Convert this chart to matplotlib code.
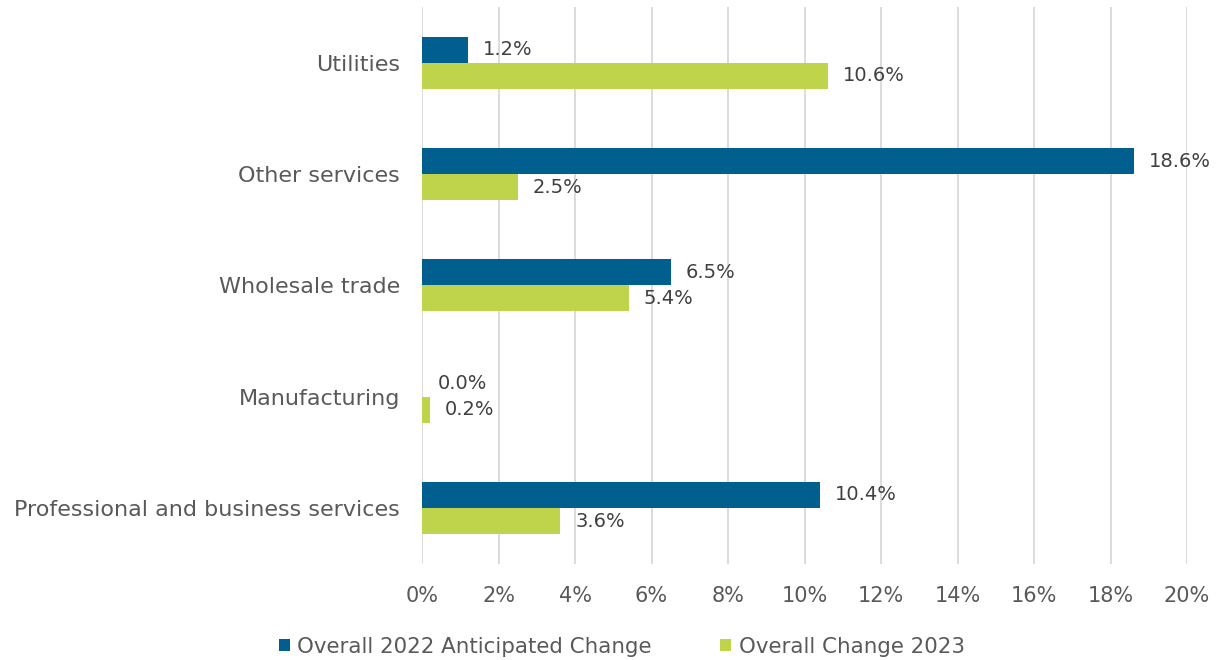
import matplotlib
matplotlib.use("Agg")
import matplotlib.pyplot as plt
import numpy as np

plt.rcParams['font.family'] = ['DejaVu Sans']

# sectors, top to bottom as drawn
sectors = ["Utilities", "Other services", "Wholesale trade",
           "Manufacturing", "Professional and business services"]
anticipated_2022 = [1.2, 18.6, 6.5, 0.0, 10.4]
change_2023 = [10.6, 2.5, 5.4, 0.2, 3.6]

blue = "#005f8f"
green = "#bfd44a"
txt = "#595959"

fig = plt.figure(figsize=(12.17, 6.6), dpi=100)
ax = fig.add_axes([0.3468, 0.146, 0.6286, 0.843])

y = np.arange(len(sectors))
h = 0.234
b1 = ax.barh(y - h / 2, anticipated_2022, height=h, color=blue,
             label="Overall 2022 Anticipated Change", zorder=3)
b2 = ax.barh(y + h / 2, change_2023, height=h, color=green,
             label="Overall Change 2023", zorder=3)

# value labels just past each bar end
for bars, vals in [(b1, anticipated_2022), (b2, change_2023)]:
    for bar, v in zip(bars, vals):
        ax.text(v + 0.4, bar.get_y() + bar.get_height() / 2, f"{v:.1f}%",
                va="center", ha="left", fontsize=14, color="#404040")

ax.set_ylim(len(sectors) - 0.5, -0.5)
ax.set_yticks(y)
ax.set_yticklabels(sectors, fontsize=16, color=txt)
ax.set_xlim(0, 20)
ax.set_xticks(np.arange(0, 21, 2))
ax.set_xticklabels([f"{t}%" for t in range(0, 21, 2)], fontsize=15, color=txt)
ax.tick_params(axis="both", length=0)
ax.tick_params(axis="y", pad=16)
ax.tick_params(axis="x", pad=16)
ax.grid(axis="x", color="#d9d9d9", linewidth=1.3, zorder=0)
for s in ax.spines.values():
    s.set_visible(False)

fig.legend(loc="lower center", bbox_to_anchor=(0.511, -0.024), ncol=2,
           frameon=False, fontsize=15.4, handlelength=0.5, handleheight=0.5,
           handletextpad=0.35, columnspacing=3.2, labelcolor=txt)

fig.savefig("out.png", dpi=100)
